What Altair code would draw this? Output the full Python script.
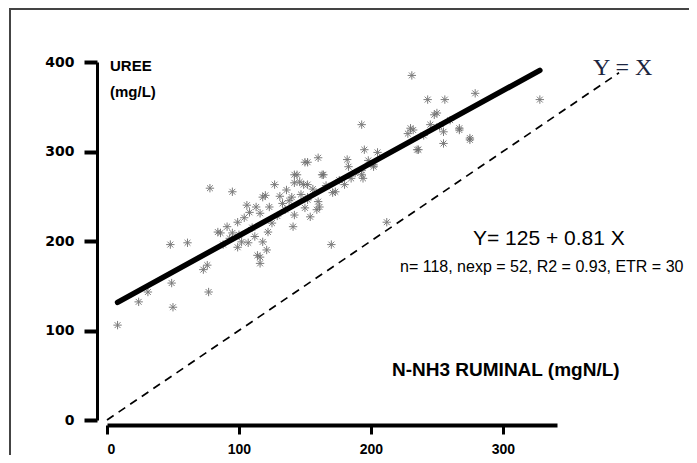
import altair as alt
import pandas as pd

# ---- data ----
x_vals = [8, 24, 31, 48, 61, 49, 50, 73, 77, 78, 84, 76,
          86, 91, 95, 95, 99, 99, 102, 107, 108, 116, 118, 118, 120, 121, 123, 114, 116, 116,
          125, 127, 110, 104, 112, 93, 88, 106, 129, 113, 100, 122,
          133, 136, 141, 142, 142, 144, 140, 142, 146, 149, 150, 150, 152, 152, 152, 152, 154,
          159, 160, 160, 161, 163, 164, 170, 171, 173, 135, 147, 156, 166, 138, 131,
          180, 182, 183, 193, 195, 193, 194, 202, 202, 205, 193, 212, 185, 188, 198, 176,
          230, 231, 232, 235, 236, 243, 248, 250, 255, 255, 256, 267, 267, 275, 275, 279,
          240, 245, 260, 252, 228,
          328]
y_vals = [106, 132, 143, 196, 198, 153, 126, 168, 143, 259, 210, 173,
          209, 216, 209, 255, 221, 193, 199, 198, 232, 231, 249, 199, 251, 190, 238, 184, 175, 182,
          220, 263, 215, 226, 205, 203, 196, 240, 228, 238, 207, 210,
          242, 257, 216, 265, 274, 274, 249, 229, 266, 263, 288, 237, 288, 263, 249, 246, 227,
          235, 244, 293, 238, 274, 274, 196, 254, 255, 235, 252, 258, 262, 245, 250,
          263, 291, 283, 330, 302, 274, 270, 283, 285, 299, 279, 221, 270, 276, 290, 268,
          326, 385, 324, 302, 302, 358, 341, 343, 322, 309, 358, 324, 326, 313, 315, 365,
          318, 330, 335, 328, 320,
          358]

fit_x = [8, 328]          # extent of the fitted line
intercept, slope = 125, 0.81
identity_x = [0, 388]     # extent of the Y = X line

x_ticks = [0, 100, 200, 300]
y_ticks = [0, 100, 200, 300, 400]

y_title = ["UREE", "(mg/L)"]
x_title = "N-NH3 RUMINAL (mgN/L)"
eq_text = "Y= 125 + 0.81 X"
stats_text = "n= 118, nexp = 52, R2 = 0.93, ETR = 30"
ident_text = "Y = X"

W, H = 681, 447

xs = alt.Scale(domain=[0, 341], range=[99, 549], nice=False, zero=False)
ys = alt.Scale(domain=[0, 400], range=[412, 54], nice=False, zero=False)

FONT = "Liberation Sans"

xaxis = alt.Axis(values=x_ticks, title=None, grid=False, orient="bottom", offset=-30,
                 domainColor="black", domainWidth=4, tickColor="black", tickWidth=3,
                 tickSize=9, labelFont=FONT, labelFontWeight="bold", labelFontSize=14,
                 labelColor="black", labelPadding=8)
yaxis = alt.Axis(values=y_ticks, title=None, grid=False, orient="left", offset=-89,
                 domainColor="black", domainWidth=3, tickColor="black", tickWidth=4,
                 tickSize=13, labelFont="DejaVu Sans", labelFontWeight="bold", labelFontSize=14,
                 labelColor="black", labelPadding=10)

pts_df = pd.DataFrame({"x": x_vals, "y": y_vals})
star = "M-1,0L1,0M0,-1L0,1M-0.7,-0.7L0.7,0.7M-0.7,0.7L0.7,-0.7"
points = alt.Chart(pts_df).mark_point(shape=star, size=70, filled=False, stroke="#6e6e6e",
                                      strokeWidth=1.0, opacity=0.9).encode(
    x=alt.X("x:Q", scale=xs, axis=xaxis),
    y=alt.Y("y:Q", scale=ys, axis=yaxis),
)

fit_df = pd.DataFrame({"x": fit_x})
fit = alt.Chart(fit_df).transform_calculate(
    y=f"{intercept} + {slope} * datum.x"
).mark_line(color="black", strokeWidth=5.5, strokeCap="round").encode(
    x=alt.X("x:Q", scale=xs), y=alt.Y("y:Q", scale=ys))

id_df = pd.DataFrame({"x": identity_x, "y": identity_x})
ident = alt.Chart(id_df).mark_line(color="black", strokeWidth=1.7, strokeDash=[8, 6]).encode(
    x=alt.X("x:Q", scale=xs), y=alt.Y("y:Q", scale=ys))

def label(text, x, y, size, weight="normal", font=FONT, color="black", align="left"):
    return alt.Chart(pd.DataFrame({"t": [text]})).mark_text(
        font=font, fontSize=size, fontWeight=weight, color=color, align=align,
        baseline="middle").encode(text="t:N", x=alt.value(x), y=alt.value(y))

texts = [
    label(y_title[0], 102, 58, 15, "bold"),
    label(y_title[1], 102, 84, 15, "bold"),
    label(ident_text, 585, 60, 24, font="Liberation Serif", color="#1c2540"),
    label(eq_text, 465, 231, 21),
    label(stats_text, 392, 259, 16),
    label(x_title, 384, 362, 19, "bold"),
]

frame_left = alt.Chart(pd.DataFrame({"a": [0]})).mark_rule(color="#444444", strokeWidth=2).encode(
    x=alt.value(2), y=alt.value(0), y2=alt.value(H))
frame_top = alt.Chart(pd.DataFrame({"a": [0]})).mark_rule(color="#444444", strokeWidth=2).encode(
    x=alt.value(2), x2=alt.value(W), y=alt.value(1))

chart = alt.layer(frame_left, frame_top, ident, points, fit, *texts).properties(
    width=W, height=H, autosize=alt.AutoSizeParams(type="none"), padding=0,
    background="white"
).configure_view(stroke=None)

chart.save("out.html", embed_options={"renderer": "svg", "actions": False})
